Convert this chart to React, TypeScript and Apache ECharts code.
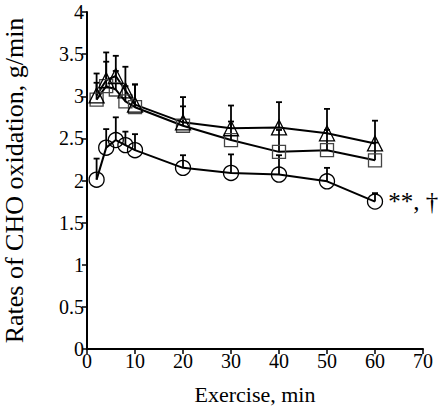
import React, { useEffect, useRef } from "react";
import * as echarts from "echarts";

const times = [2, 4, 6, 8, 10, 20, 30, 40, 50, 60];
const circleVals = [2.01, 2.39, 2.48, 2.42, 2.36, 2.15, 2.09, 2.07, 1.99, 1.75];
const circleErrTop = [2.26, 2.61, 2.75, 2.58, 2.55, 2.3, 2.31, 2.3, 2.15, 1.85];
const squareVals = [2.96, 3.12, 3.08, 2.94, 2.87, 2.65, 2.48, 2.34, 2.36, 2.24];
const squareErrTop = [3.16, 3.41, 3.3, 3.12, 3.14, 2.88, 2.7, 2.6, 2.6, 2.45];
const triVals = [3.01, 3.19, 3.24, 3.07, 2.9, 2.69, 2.62, 2.63, 2.56, 2.44];
const triErrTop = [3.27, 3.52, 3.48, 3.35, 3.14, 2.99, 2.89, 2.93, 2.85, 2.71];
const yTicks = { min: 0, max: 4, interval: 0.5 };
const xTicks = { min: 0, max: 70, interval: 10 };
const annotation = "**, †";

const FONT = "Liberation Serif";

function errSeries(vals: number[], tops: number[], color: string) {
  const data = times.map((t, i) => [t, vals[i], tops[i]]);
  return {
    type: "custom",
    z: 1,
    renderItem: (_p: any, api: any) => {
      const x = api.value(0);
      const lo = api.coord([x, api.value(1)]);
      const hi = api.coord([x, api.value(2)]);
      return {
        type: "group",
        children: [
          { type: "line", shape: { x1: lo[0], y1: lo[1], x2: hi[0], y2: hi[1] }, style: { stroke: color, lineWidth: 1.8 } },
          { type: "line", shape: { x1: hi[0] - 3, y1: hi[1], x2: hi[0] + 3, y2: hi[1] }, style: { stroke: color, lineWidth: 1.8 } },
        ],
      };
    },
    data,
  };
}

export default function App() {
  const ref = useRef<HTMLDivElement>(null);
  useEffect(() => {
    const chart = echarts.init(ref.current!, null, { renderer: "svg" });
    const lineSeries = (vals: number[], symbol: string, size: number, border: string, label?: any) => ({
      type: "line",
      z: 3,
      data: times.map((t, i) => [t, vals[i]]),
      symbol,
      symbolSize: size,
      showAllSymbol: true,
      lineStyle: { color: "#000", width: 2 },
      itemStyle: { color: "rgba(0,0,0,0)", borderColor: border, borderWidth: 1.3 },
      label,
    });
    chart.setOption({
      animation: false,
      grid: { left: 87, right: 19, top: 12, bottom: 58, outerBoundsMode: "none", containLabel: false },
      xAxis: {
        type: "value",
        min: xTicks.min,
        max: xTicks.max,
        interval: xTicks.interval,
        name: "Exercise, min",
        nameLocation: "middle",
        nameGap: 34,
        nameTextStyle: { fontFamily: FONT, fontSize: 22, color: "#000" },
        axisLine: { lineStyle: { color: "#000", width: 2 } },
        axisTick: { show: true, inside: false, length: 5, lineStyle: { color: "#000", width: 1.5 } },
        axisLabel: { fontFamily: FONT, fontSize: 20, color: "#000", margin: 2 },
        splitLine: { show: false },
      },
      yAxis: {
        type: "value",
        min: yTicks.min,
        max: yTicks.max,
        interval: yTicks.interval,
        name: "Rates of CHO oxidation, g/min",
        nameLocation: "middle",
        nameGap: 60,
        nameTextStyle: { fontFamily: FONT, fontSize: 26, color: "#000" },
        axisLine: { show: true, lineStyle: { color: "#000", width: 2 } },
        axisTick: { show: true, inside: false, length: 5, lineStyle: { color: "#000", width: 1.5 } },
        axisLabel: { fontFamily: FONT, fontSize: 20, color: "#000", margin: 3 },
        splitLine: { show: false },
      },
      series: [
        errSeries(circleVals, circleErrTop, "#000"),
        errSeries(squareVals, squareErrTop, "#000"),
        errSeries(triVals, triErrTop, "#000"),
        lineSeries(circleVals, "circle", 15, "#000", {
          show: true,
          position: "right",
          distance: 5,
          formatter: (p: any) => (p.dataIndex === times.length - 1 ? annotation : ""),
          fontFamily: FONT,
          fontSize: 25,
          color: "#000",
        }),
        lineSeries(squareVals, "rect", 13, "#444"),
        lineSeries(triVals, "triangle", 15, "#000"),
      ],
    });
    return () => chart.dispose();
  }, []);
  return <div ref={ref} style={{ position: "absolute", left: 0, top: 0, width: 442, height: 407 }} />;
}
